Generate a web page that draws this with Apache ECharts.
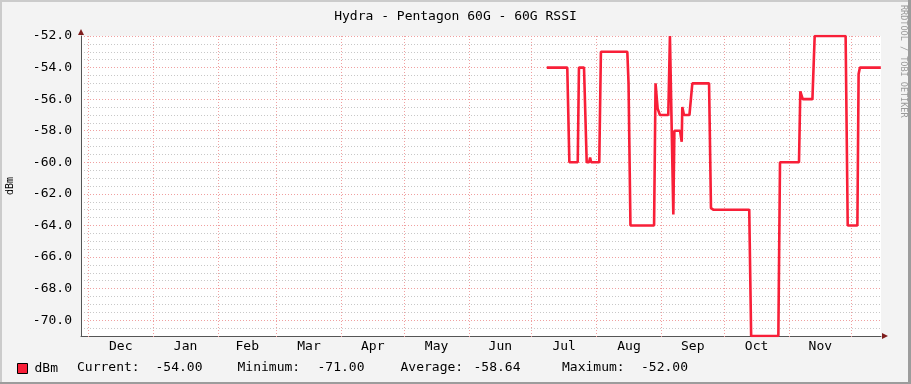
<!DOCTYPE html>
<html><head><meta charset="utf-8">
<script src="https://cdn.jsdelivr.net/npm/echarts@6/dist/echarts.min.js"></script>
<style>html,body{margin:0;padding:0;background:#f3f3f3}#c{width:911px;height:384px}</style>
</head><body><div id="c"></div>
<script>
const chartTitle = 'Hydra - Pentagon 60G - 60G RSSI';
const unitLabel = 'dBm';
const creditText = 'RRDTOOL / TOBI OETIKER';
const axisStart = '2018-11-27 12:00';
const axisEnd = '2019-12-15 00:00';
const monthStarts = ['2018-12-01 00:00','2019-01-01 00:00','2019-02-01 00:00','2019-03-01 00:00',
  '2019-04-01 00:00','2019-05-01 00:00','2019-06-01 00:00','2019-07-01 00:00','2019-08-01 00:00',
  '2019-09-01 00:00','2019-10-01 00:00','2019-11-01 00:00','2019-12-01 00:00'];
const monthLabelAt = ['2018-12-16 12:00','2019-01-16 12:00','2019-02-15 00:00','2019-03-16 12:00',
  '2019-04-16 00:00','2019-05-16 12:00','2019-06-16 00:00','2019-07-16 12:00','2019-08-16 12:00',
  '2019-09-16 00:00','2019-10-16 12:00','2019-11-16 00:00'];
const monthNames = ['Jan','Feb','Mar','Apr','May','Jun','Jul','Aug','Sep','Oct','Nov','Dec'];
const yMin = -71, yMax = -52;

const times = [
  '2019-07-08 05:00','2019-07-18 00:00','2019-07-19 00:00','2019-07-23 00:00','2019-07-23 14:00',
  '2019-07-26 00:00','2019-07-27 07:00','2019-07-28 10:00','2019-07-28 22:00','2019-07-29 10:00',
  '2019-08-02 07:00','2019-08-03 02:00','2019-08-15 17:00','2019-08-16 07:00','2019-08-16 19:00',
  '2019-08-17 05:00','2019-08-28 12:00','2019-08-29 05:00','2019-08-30 05:00','2019-08-31 07:00',
  '2019-09-04 07:00','2019-09-05 02:00','2019-09-06 17:00','2019-09-07 05:00','2019-09-09 22:00',
  '2019-09-10 17:00','2019-09-11 00:00','2019-09-11 19:00','2019-09-14 10:00','2019-09-15 19:00',
  '2019-09-23 19:00','2019-09-24 17:00','2019-09-25 19:00','2019-10-13 00:00','2019-10-13 22:00',
  '2019-10-26 22:00','2019-10-27 17:00','2019-11-05 19:00','2019-11-06 10:00','2019-11-07 14:00',
  '2019-11-12 05:00','2019-11-13 07:00','2019-11-28 02:00','2019-11-29 02:00','2019-12-03 17:00',
  '2019-12-04 07:00','2019-12-04 22:00','2019-12-14 22:00'];
const rssi = [
  -54, -54, -60, -60, -54,
  -54, -60, -60, -59.7, -60,
  -60, -53, -53, -55, -55,
  -64, -64, -55, -56.6, -57,
  -57, -52, -63.3, -58, -58,
  -58.7, -56.5, -57, -57, -55,
  -55, -62.9, -63, -63, -71,
  -71, -60, -60, -55.5, -56,
  -56, -52, -52, -64, -64,
  -54.4, -54, -54];

const statNames = ['Current:', 'Minimum:', 'Average:', 'Maximum:'];
const statValues = ['-54.00', '-71.00', '-58.64', '-52.00'];

const font = 'DejaVu Sans Mono';
const majorGrid = '#f0a0a0';
const minorGrid = '#c8c8c8';
const lineColor = '#f81f38';
const axisColor = '#555555';
const arrowColor = '#7f1d1d';

function ts(s) { return new Date(s.replace(' ', 'T')).getTime(); }

const data = times.map((t, i) => [ts(t), rssi[i]]);
const xMin = ts(axisStart), xMax = ts(axisEnd);

const statNameX = [77, 237.5, 400.5, 562];
const statValueX = [155.5, 317.5, 473.5, 641];
const statGraphics = [];
statNames.forEach((n, i) => {
  statGraphics.push({type: 'text', x: statNameX[i], y: 368, z: 50,
    style: {text: n, fontFamily: font, fontSize: 13, fill: '#000', align: 'left', verticalAlign: 'middle'}});
  statGraphics.push({type: 'text', x: statValueX[i], y: 368, z: 50,
    style: {text: statValues[i], fontFamily: font, fontSize: 13, fill: '#000', align: 'left', verticalAlign: 'middle'}});
});

const chart = echarts.init(document.getElementById('c'), null, {renderer: 'canvas'});
chart.setOption({
  backgroundColor: '#f3f3f3',
  animation: false,
  textStyle: {fontFamily: font},
  title: {text: chartTitle, left: 'center', top: 5,
    textStyle: {fontFamily: font, fontSize: 13, fontWeight: 'normal', color: '#000'}},
  legend: {data: [unitLabel], left: 17, top: 362, padding: 0, icon: 'rect', itemWidth: 10, itemHeight: 10,
    itemStyle: {borderColor: '#000', borderWidth: 1},
    textStyle: {fontFamily: font, fontSize: 13, color: '#000', padding: [0, 0, 0, 2]}},
  grid: {left: 81, top: 36, width: 800, height: 300, show: true, backgroundColor: '#ffffff',
    borderWidth: 0, containLabel: false, outerBoundsMode: 'none'},
  xAxis: [{
    type: 'value', min: xMin, max: xMax, scale: true,
    axisLine: {show: true, onZero: false, lineStyle: {color: axisColor, width: 1}},
    axisTick: {show: true, customValues: monthStarts.map(ts), length: 3, lineStyle: {color: majorGrid, type: [1, 2]}},
    axisLabel: {customValues: monthLabelAt.map(ts), formatter: v => monthNames[new Date(v).getMonth()],
      margin: 4, fontFamily: font, fontSize: 13, color: '#000'},
    splitLine: {show: true, lineStyle: {color: majorGrid, type: [1, 2], width: 1}}
  }, {
    type: 'value', min: xMin, max: xMax, scale: true, position: 'bottom',
    axisLine: {show: true, onZero: false, symbol: ['none', 'triangle'], symbolSize: [6, 6], symbolOffset: [0, 4],
      lineStyle: {color: arrowColor, width: 0}},
    axisTick: {show: false}, axisLabel: {show: false}, splitLine: {show: false}
  }],
  yAxis: [{
    type: 'value', min: yMin, max: yMax, interval: 1,
    name: unitLabel, nameLocation: 'middle', nameRotate: 90, nameGap: 66,
    nameTextStyle: {fontFamily: font, fontSize: 10, color: '#000'},
    axisLine: {show: true, onZero: false, lineStyle: {color: axisColor}},
    axisTick: {show: false},
    axisLabel: {formatter: v => (v % 2 === 0 ? v.toFixed(1) : ''), margin: 9,
      fontFamily: font, fontSize: 13, color: '#000'},
    splitLine: {show: true, lineStyle: {color: [minorGrid, majorGrid], type: [1, 2]}},
    minorTick: {show: false, splitNumber: 2},
    minorSplitLine: {show: true, lineStyle: {color: minorGrid, type: [1, 2]}}
  }, {
    type: 'value', min: yMin, max: yMax, position: 'left',
    axisLine: {show: true, onZero: false, symbol: ['none', 'triangle'], symbolSize: [6, 6], symbolOffset: [0, 4],
      lineStyle: {color: arrowColor, width: 0}},
    axisTick: {show: false}, axisLabel: {show: false}, splitLine: {show: false}
  }],
  series: [{
    name: unitLabel, type: 'line', data: data, showSymbol: false, symbol: 'none',
    lineStyle: {width: 2.6, color: lineColor}, itemStyle: {color: lineColor}, z: 3
  }],
  graphic: [
    {type: 'rect', left: 0, top: 0, z: 100, shape: {width: 911, height: 2}, style: {fill: '#cbcbcb'}},
    {type: 'rect', left: 0, top: 0, z: 100, shape: {width: 2, height: 384}, style: {fill: '#cbcbcb'}},
    {type: 'rect', right: 0, top: 0, z: 101, shape: {width: 3, height: 384}, style: {fill: '#9c9c9c'}},
    {type: 'rect', left: 0, bottom: 0, z: 101, shape: {width: 911, height: 2}, style: {fill: '#9c9c9c'}},
    {type: 'text', x: 903, y: 5, rotation: -Math.PI / 2, z: 50,
      style: {text: creditText, fontFamily: font, fontSize: 8.5, fill: '#9a9a9a', align: 'left', verticalAlign: 'middle'}}
  ].concat(statGraphics)
});
</script></body></html>
